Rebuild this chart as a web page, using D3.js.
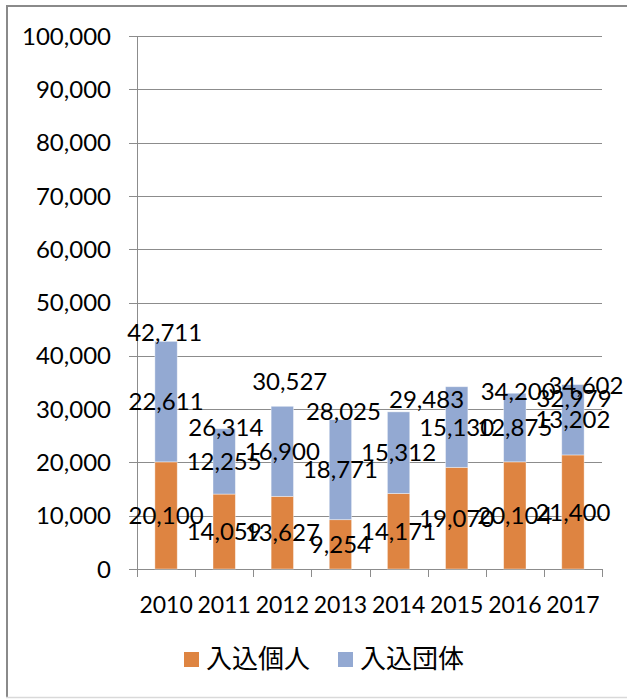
<!DOCTYPE html>
<html>
<head>
<meta charset="utf-8">
<script src="https://cdn.jsdelivr.net/npm/d3@7"></script>
<style>
  html, body { margin: 0; padding: 0; background: #fff; }
  svg { display: block; }
</style>
</head>
<body>
<svg id="chart" width="627" height="699"></svg>
<script>
// ---- data ----
const years = ["2010", "2011", "2012", "2013", "2014", "2015", "2016", "2017"];
const individual = [20100, 14059, 13627, 9254, 14171, 19070, 20104, 21400];   // 入込個人
const group = [22611, 12255, 16900, 18771, 15312, 15130, 12875, 13202];        // 入込団体
const totals = [42711, 26314, 30527, 28025, 29483, 34200, 32979, 34602];
const yTicks = [0, 10000, 20000, 30000, 40000, 50000, 60000, 70000, 80000, 90000, 100000];
const seriesNames = ["入込個人", "入込団体"];

// ---- layout (label nudges of the total labels, in px) ----
const totalNudgeX = [-1.4, 1.6, 7.4, 3, 28, 61.5, 59.3, 13];
const totalNudgeY = [-8.5, -1.2, -25, -8.6, -12.6, 4.6, 5.5, 0.4];

const colors = ["#DE8441", "#93A9D2"];
const numFont = "Lato, 'Liberation Sans', sans-serif";
const numSize = 24;
const catSize = 23;
const baseOff = 8.6;
const fmt = d3.format(",");

const svg = d3.select("#chart");

// frame
svg.append("line").attr("x1", 7).attr("x2", 627).attr("y1", 6).attr("y2", 6)
  .attr("stroke", "#8a8a8a").attr("stroke-width", 2);
svg.append("line").attr("x1", 7).attr("x2", 7).attr("y1", 5).attr("y2", 698)
  .attr("stroke", "#8a8a8a").attr("stroke-width", 2);
svg.append("line").attr("x1", 6).attr("x2", 627).attr("y1", 697.5).attr("y2", 697.5)
  .attr("stroke", "#d9d9d9").attr("stroke-width", 1.5);

const x = d3.scaleBand().domain(years).range([137, 602])
  .paddingInner(0.615).paddingOuter(0.3075);
const y = d3.scaleLinear().domain([0, 100000]).range([569, 36]);

// gridlines
svg.append("g").selectAll("line").data(yTicks).join("line")
  .attr("x1", 129).attr("x2", 602)
  .attr("y1", d => Math.round(y(d)) + 0.5).attr("y2", d => Math.round(y(d)) + 0.5)
  .attr("stroke", "#8c8c8c").attr("stroke-width", 1);

// y axis line
svg.append("line").attr("x1", 137.5).attr("x2", 137.5).attr("y1", y(100000)).attr("y2", 577)
  .attr("stroke", "#8c8c8c");

// x ticks at category boundaries
const x0 = x.range()[0];
const bounds = d3.range(years.length + 1).map(i => x0 + i * x.step());
svg.append("g").selectAll("line").data(bounds).join("line")
  .attr("x1", d => Math.round(d) + 0.5).attr("x2", d => Math.round(d) + 0.5)
  .attr("y1", 569).attr("y2", 577)
  .attr("stroke", "#8c8c8c");

// y tick labels
svg.append("g").selectAll("text").data(yTicks).join("text")
  .attr("x", 111).attr("y", d => y(d) + baseOff)
  .attr("text-anchor", "end")
  .attr("font-family", numFont).attr("font-size", numSize).attr("fill", "#000")
  .text(d => fmt(d));

// x category labels
svg.append("g").selectAll("text").data(years).join("text")
  .attr("x", d => x(d) + x.bandwidth() / 2).attr("y", 612.5)
  .attr("text-anchor", "middle")
  .attr("font-family", numFont).attr("font-size", catSize).attr("fill", "#000")
  .text(d => d);

// stacked bars
const rows = years.map((yr, i) => ({ year: yr, individual: individual[i], group: group[i] }));
const stack = d3.stack().keys(["individual", "group"])(rows);

const barG = svg.append("g");
stack.forEach((layer, li) => {
  barG.append("g").selectAll("rect").data(layer).join("rect")
    .attr("x", d => x(d.data.year))
    .attr("width", x.bandwidth())
    .attr("y", d => y(d[1]))
    .attr("height", d => y(d[0]) - y(d[1]))
    .attr("fill", colors[li])
    .attr("stroke", "rgba(255,255,255,0.5)").attr("stroke-width", 0.8);
});

// segment labels (centred)
const labG = svg.append("g");
stack.forEach((layer) => {
  labG.append("g").selectAll("text").data(layer).join("text")
    .attr("x", d => x(d.data.year) + x.bandwidth() / 2)
    .attr("y", d => y((d[0] + d[1]) / 2) + baseOff)
    .attr("text-anchor", "middle")
    .attr("font-family", numFont).attr("font-size", numSize).attr("fill", "#000")
    .text(d => fmt(d[1] - d[0]));
});

// total labels
labG.append("g").selectAll("text").data(totals).join("text")
  .attr("x", (d, i) => x(years[i]) + x.bandwidth() / 2 + totalNudgeX[i])
  .attr("y", (d, i) => y(d) + totalNudgeY[i] + baseOff)
  .attr("text-anchor", "middle")
  .attr("font-family", numFont).attr("font-size", numSize).attr("fill", "#000")
  .text(d => fmt(d));

// legend
const legX = [184, 338];
const leg = svg.append("g");
seriesNames.forEach((name, i) => {
  leg.append("rect").attr("x", legX[i]).attr("y", 652).attr("width", 15).attr("height", 15)
    .attr("fill", colors[i]);
  leg.append("text").attr("x", legX[i] + 22).attr("y", 668)
    .attr("font-family", "'Noto Sans CJK JP', sans-serif").attr("font-size", 26)
    .attr("fill", "#000")
    .text(name);
});
</script>
</body>
</html>
